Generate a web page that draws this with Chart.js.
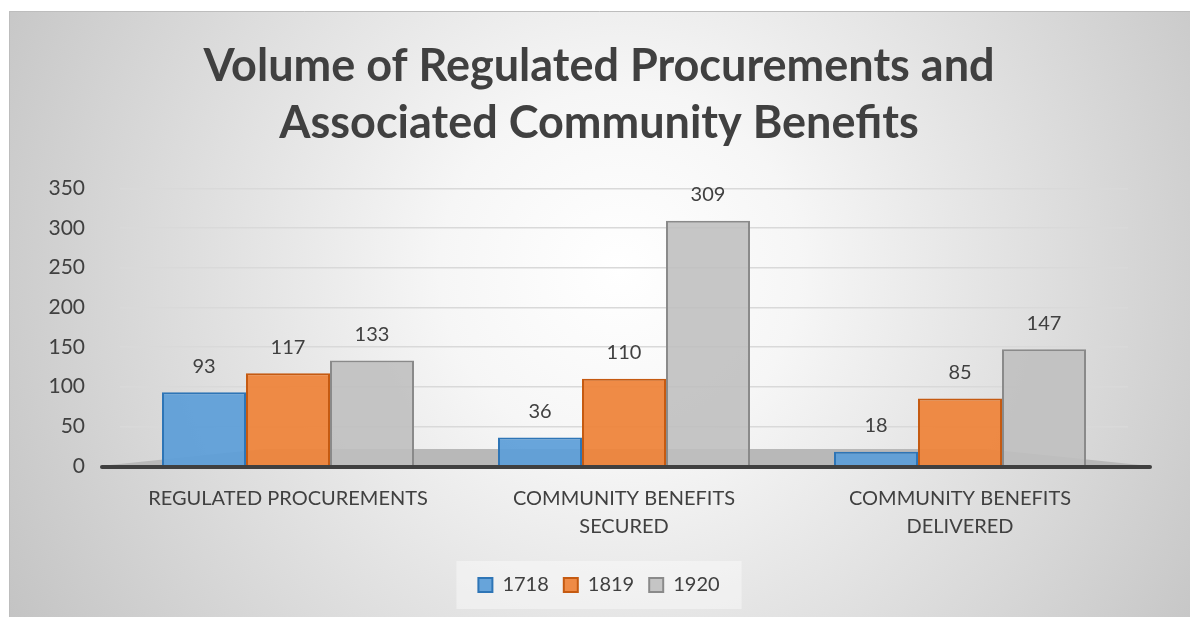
<!DOCTYPE html>
<html>
<head>
<meta charset="utf-8">
<script src="https://cdn.jsdelivr.net/npm/chart.js@4/dist/chart.umd.min.js"></script>
<style>
  html, body { margin: 0; padding: 0; background: #ffffff; }
  #wrap { width: 1190px; height: 617px; }
</style>
</head>
<body>
<div id="wrap"><canvas id="c" width="1190" height="617"></canvas></div>
<script>
// ---- data ----
const categories = [
  'REGULATED PROCUREMENTS',
  ['COMMUNITY BENEFITS', 'SECURED'],
  ['COMMUNITY BENEFITS', 'DELIVERED']
];
const seriesNames = ['1718', '1819', '1920'];
const values1718 = [93, 36, 18];
const values1819 = [117, 110, 85];
const values1920 = [133, 309, 147];
const yMin = 0;
const yMax = 350;
const yStep = 50;
const titleLines = ['Volume of Regulated Procurements and', 'Associated Community Benefits'];

// ---- plugins ----
const backgroundPlugin = {
  id: 'bg',
  beforeDraw(chart) {
    const ctx = chart.ctx;
    ctx.save();
    ctx.fillStyle = '#ffffff';
    ctx.fillRect(0, 0, chart.width, chart.height);
    const g = ctx.createRadialGradient(620, 270, 0, 620, 270, 720);
    g.addColorStop(0, '#ffffff');
    g.addColorStop(0.25, '#f6f6f6');
    g.addColorStop(1, '#c2c2c2');
    ctx.fillStyle = g;
    ctx.fillRect(9, 11, chart.width - 9, chart.height - 11);
    ctx.strokeStyle = '#bdbdbd';
    ctx.lineWidth = 1;
    ctx.beginPath();
    ctx.moveTo(9.5, chart.height);
    ctx.lineTo(9.5, 11.5);
    ctx.lineTo(chart.width, 11.5);
    ctx.stroke();
    // legend backdrop
    const lg = chart.legend;
    if (lg && lg.legendHitBoxes && lg.legendHitBoxes.length) {
      const boxes = lg.legendHitBoxes;
      const l = Math.min(...boxes.map(b => b.left)) - 22;
      const r = Math.max(...boxes.map(b => b.left + b.width)) + 22;
      const t = Math.min(...boxes.map(b => b.top)) - 14;
      const bt = Math.max(...boxes.map(b => b.top + b.height)) + 14;
      ctx.fillStyle = 'rgba(255,255,255,0.4)';
      ctx.fillRect(l, t, r - l, bt - t);
    }
    ctx.restore();
  }
};

const floorPlugin = {
  id: 'floor',
  beforeDatasetsDraw(chart) {
    const ctx = chart.ctx;
    const y0 = chart.scales.y.getPixelForValue(0);
    ctx.save();
    ctx.fillStyle = '#b8b8b8';
    ctx.beginPath();
    ctx.moveTo(100, y0);
    ctx.lineTo(265, y0 - 17);
    ctx.lineTo(985, y0 - 17);
    ctx.lineTo(1150, y0);
    ctx.closePath();
    ctx.fill();
    ctx.restore();
  },
  afterDatasetsDraw(chart) {
    const ctx = chart.ctx;
    const y0 = chart.scales.y.getPixelForValue(0);
    ctx.save();
    ctx.strokeStyle = '#404040';
    ctx.lineWidth = 4;
    ctx.lineCap = 'round';
    ctx.beginPath();
    ctx.moveTo(102, y0 + 1);
    ctx.lineTo(1150, y0 + 1);
    ctx.stroke();
    // value labels
    ctx.fillStyle = '#404040';
    ctx.font = '20px Lato';
    ctx.textAlign = 'center';
    ctx.textBaseline = 'middle';
    chart.data.datasets.forEach((ds, di) => {
      const meta = chart.getDatasetMeta(di);
      meta.data.forEach((el, i) => {
        ctx.fillText(String(ds.data[i]), el.x, el.y - 26);
      });
    });
    ctx.restore();
  }
};

new Chart(document.getElementById('c'), {
  type: 'bar',
  data: {
    labels: categories,
    datasets: [
      { label: seriesNames[0], data: values1718, backgroundColor: 'rgba(91,157,216,0.92)', borderColor: '#2e75b6', borderWidth: 2 },
      { label: seriesNames[1], data: values1819, backgroundColor: 'rgba(238,132,58,0.94)', borderColor: '#c55a11', borderWidth: 2 },
      { label: seriesNames[2], data: values1920, backgroundColor: 'rgba(190,190,190,0.88)', borderColor: '#8a8a8a', borderWidth: 2 }
    ]
  },
  options: {
    responsive: false,
    animation: false,
    devicePixelRatio: 1,
    layout: { padding: { left: 8, right: 0, top: 0, bottom: 12 } },
    datasets: { bar: { categoryPercentage: 0.75, barPercentage: 1.0 } },
    scales: {
      x: {
        grid: { display: false },
        border: { display: false },
        afterFit(scale) { scale.height = scale.height + 8; },
        ticks: {
          color: '#404040',
          font: { family: 'Lato', size: 20, lineHeight: 1.4 },
          padding: 11,
          maxRotation: 0,
          autoSkip: false
        }
      },
      y: {
        min: yMin,
        max: yMax,
        afterFit(scale) { scale.width = 112; },
        grid: { color: '#d9d9d9', lineWidth: 1.5, drawTicks: false },
        border: { display: false },
        ticks: {
          stepSize: yStep,
          color: '#404040',
          font: { family: 'Lato', size: 21 },
          padding: 35
        }
      },
      yRight: {
        position: 'right',
        display: true,
        min: yMin,
        max: yMax,
        afterFit(scale) { scale.width = 62; },
        grid: { display: false, drawTicks: false },
        border: { display: false },
        ticks: { display: false }
      }
    },
    plugins: {
      title: {
        display: true,
        text: titleLines,
        color: '#404040',
        font: { family: 'Lato', size: 45, weight: 'bold', lineHeight: 1.27 },
        padding: { top: 38, bottom: 36 }
      },
      legend: {
        position: 'bottom',
        labels: {
          color: '#404040',
          font: { family: 'Lato', size: 20 },
          boxWidth: 14,
          boxHeight: 14,
          padding: 15
        }
      },
      tooltip: { enabled: false }
    }
  },
  plugins: [backgroundPlugin, floorPlugin]
});
</script>
</body>
</html>
